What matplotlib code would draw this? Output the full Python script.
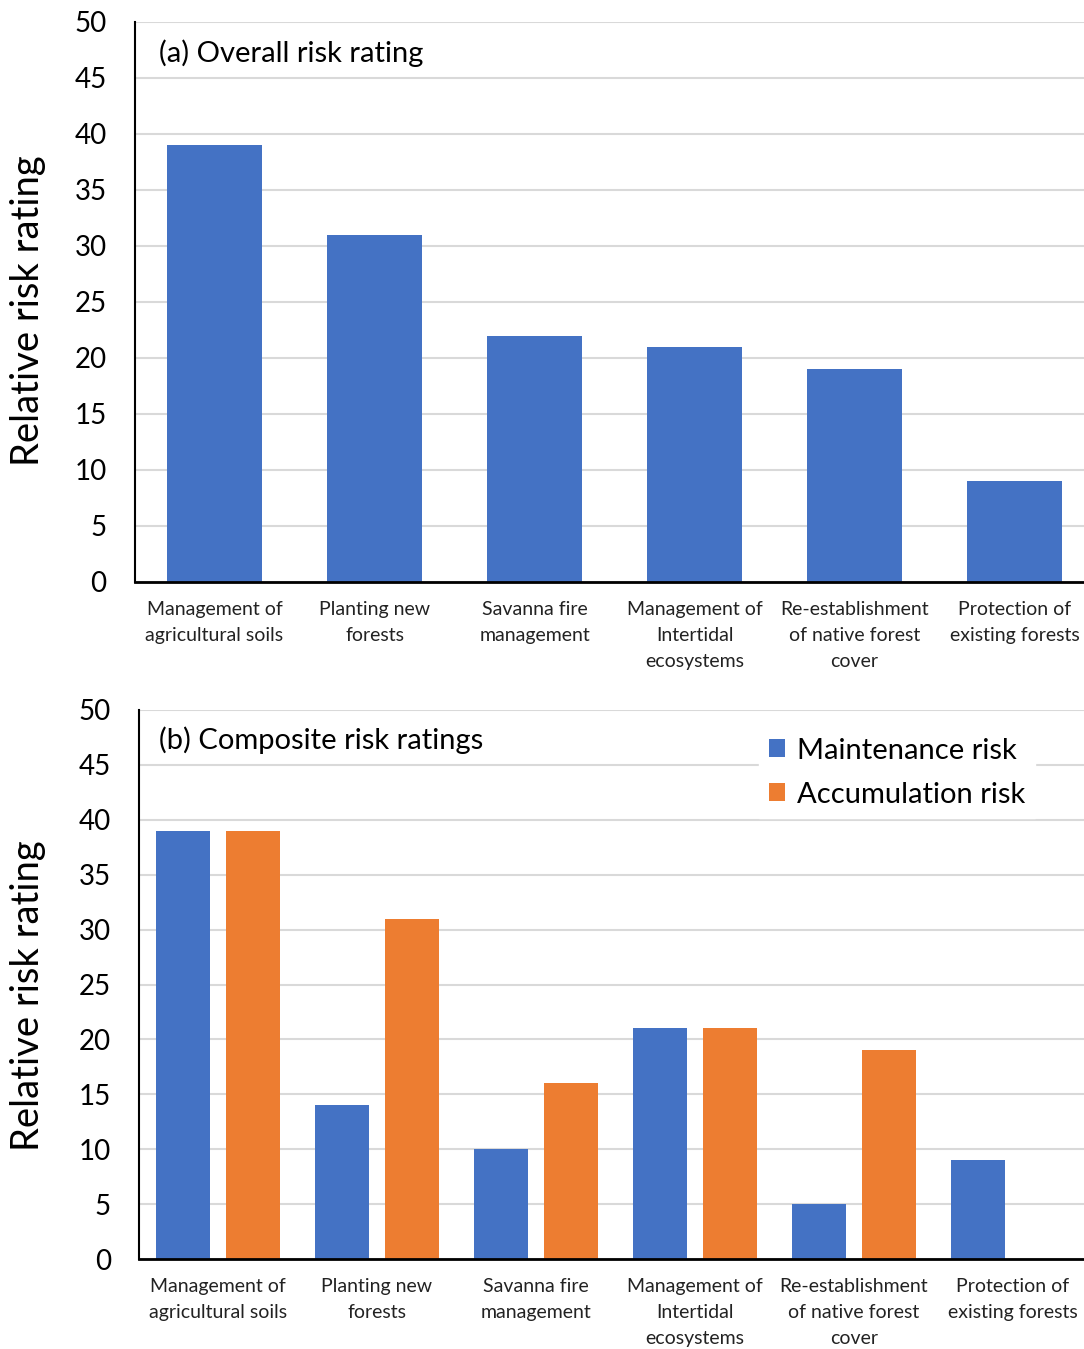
import numpy as np
import matplotlib.pyplot as plt

plt.rcParams['font.family'] = ['Lato', 'DejaVu Sans']

# Data
categories = ["Management of\nagricultural soils", "Planting new\nforests",
              "Savanna fire\nmanagement", "Management of\nIntertidal\necosystems",
              "Re-establishment\nof native forest\ncover", "Protection of\nexisting forests"]
overall = [39, 31, 22, 21, 19, 9]
maintenance = [39, 14, 10, 21, 5, 9]
accumulation = [39, 31, 16, 21, 19, 0]
yticks = [0, 5, 10, 15, 20, 25, 30, 35, 40, 45, 50]

blue = '#4472c4'
orange = '#ed7d31'

fig = plt.figure(figsize=(10.84, 13.49), dpi=100)
# axes run a little past the right edge of the figure, as in the original
ax1 = fig.add_axes([0.1241, 0.5686, 0.8856, 0.4151])
ax2 = fig.add_axes([0.1278, 0.0667, 0.8801, 0.4070])

x = np.arange(len(categories))


def style(ax, label_y):
    ax.set_ylim(0, 50)
    ax.set_xlim(-0.5, len(categories) - 0.5)
    ax.set_yticks(yticks)
    ax.tick_params(axis='y', labelsize=20, length=0, pad=20)
    ax.tick_params(axis='x', labelsize=14, length=0, pad=14, colors='#222222')
    ax.set_xticks(x)
    ax.set_xticklabels(categories, linespacing=1.63)
    ax.grid(axis='y', color='#d9d9d9', linewidth=1.5)
    ax.set_axisbelow(True)
    for s in ['top', 'right']:
        ax.spines[s].set_visible(False)
    ax.spines['left'].set_linewidth(1.5)
    ax.spines['bottom'].set_linewidth(2)
    ax.set_ylabel("Relative risk rating", fontsize=27.5)
    ax.yaxis.set_label_coords(46 / 1084, label_y, transform=fig.transFigure)


# (a) overall
ax1.bar(x, overall, width=0.594, color=blue)
style(ax1, 1 - 311 / 1349)
ax1.text(0.025, 0.945, "(a) Overall risk rating", transform=ax1.transAxes,
         fontsize=21, va='center', ha='left')

# (b) composite
w = 0.34
ax2.bar(x - 0.22, maintenance, width=w, color=blue, label='Maintenance risk')
ax2.bar(x + 0.22, accumulation, width=w, color=orange, label='Accumulation risk')
style(ax2, 1 - 996 / 1349)
ax2.text(0.021, 0.945, "(b) Composite risk ratings", transform=ax2.transAxes,
         fontsize=21, va='center', ha='left')
leg = ax2.legend(loc='upper right', bbox_to_anchor=(0.955, 0.995), fontsize=21,
                 frameon=True, framealpha=1, edgecolor='white', fancybox=False,
                 handlelength=0.55, handleheight=0.55, handletextpad=0.4,
                 labelspacing=0.62, borderpad=0.35)

fig.savefig('out.png', dpi=100)
